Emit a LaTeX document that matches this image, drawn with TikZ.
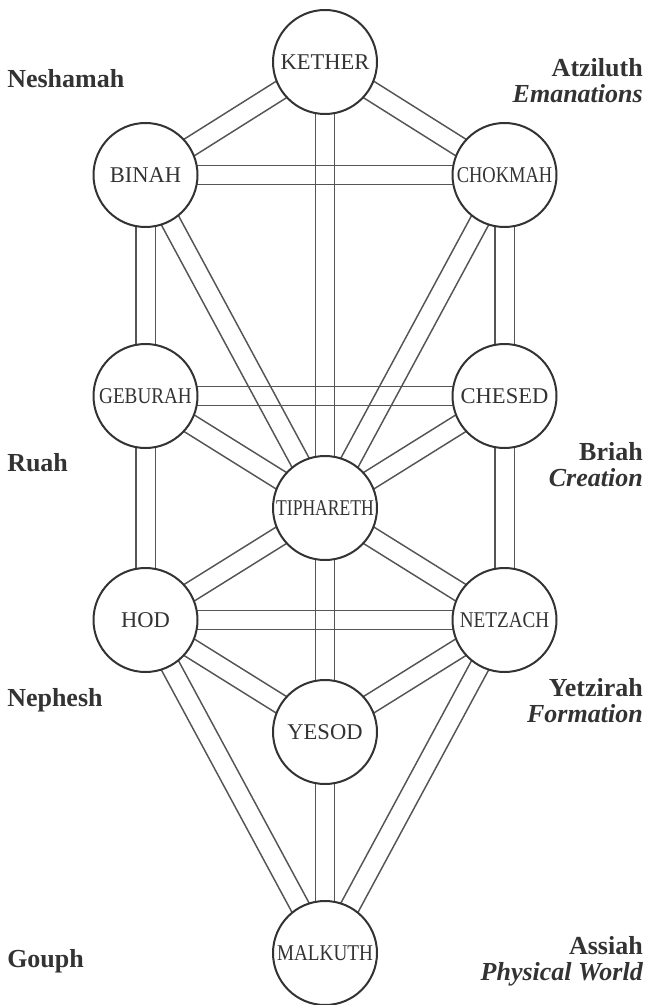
\documentclass[tikz,border=0pt]{standalone}
\usepackage{fontspec}
\setmainfont{Liberation Serif}
\usetikzlibrary{calc,backgrounds}
\definecolor{ink}{HTML}{333333}
\definecolor{pathgray}{HTML}{555555}
% half of the distance between the two rails of a path
\newcommand\halfgap{7.3pt}
% a path between two sephiroth: two parallel rails, centre to centre
\newcommand\channel[2]{%
  \draw[pathline] ($(#1)!\halfgap!90:(#2)$) -- ($(#2)!\halfgap!-90:(#1)$);
  \draw[pathline] ($(#1)!\halfgap!-90:(#2)$) -- ($(#2)!\halfgap!90:(#1)$);}
% horizontally condensed name inside a circle
\newcommand\sephname[2]{\scalebox{#1}[1]{#2}}

\begin{document}
\begin{tikzpicture}[x=0.75pt,y=-0.75pt,
  sephira/.style={circle,draw=ink,line width=1.5pt,fill=white,
    minimum size=78pt,inner sep=0pt,text=ink,
    font=\fontsize{16.9}{20}\selectfont},
  pathline/.style={draw=pathgray,line width=1.1pt},
  world/.style={anchor=base east,inner sep=0pt,text=ink,
    font=\fontsize{19.5}{23}\selectfont\bfseries},
  soul/.style={anchor=base west,inner sep=0pt,text=ink,
    font=\fontsize{19.5}{23}\selectfont\bfseries}]
\useasboundingbox (0,0) rectangle (648,1005);

% the ten sephiroth
\node[sephira] (kether)    at (325,62)    {KETHER};
\node[sephira] (binah)     at (145.5,175) {BINAH};
\node[sephira] (chokmah)   at (504.5,175) {\sephname{0.82}{CHOKMAH}};
\node[sephira] (geburah)   at (145.5,396) {\sephname{0.85}{GEBURAH}};
\node[sephira] (chesed)    at (504.5,396) {CHESED};
\node[sephira] (tiphareth) at (325,508)   {\sephname{0.78}{TIPHARETH}};
\node[sephira] (hod)       at (145.5,620) {HOD};
\node[sephira] (netzach)   at (504.5,620) {\sephname{0.85}{NETZACH}};
\node[sephira] (yesod)     at (325,732)   {YESOD};
\node[sephira] (malkuth)   at (325,953)   {\sephname{0.85}{MALKUTH}};

% the twenty-two paths
\begin{scope}[on background layer]
\channel{kether}{binah}
\channel{kether}{chokmah}
\channel{kether}{tiphareth}
\channel{binah}{chokmah}
\channel{binah}{geburah}
\channel{binah}{tiphareth}
\channel{chokmah}{chesed}
\channel{chokmah}{tiphareth}
\channel{geburah}{chesed}
\channel{geburah}{tiphareth}
\channel{chesed}{tiphareth}
\channel{geburah}{hod}
\channel{chesed}{netzach}
\channel{tiphareth}{hod}
\channel{tiphareth}{netzach}
\channel{tiphareth}{yesod}
\channel{hod}{netzach}
\channel{hod}{yesod}
\channel{netzach}{yesod}
\channel{hod}{malkuth}
\channel{netzach}{malkuth}
\channel{yesod}{malkuth}
\end{scope}

% parts of the soul
\node[soul] (neshamah) at (7,88)  {Neshamah};
\node[soul] (ruah)     at (7,471) {Ruah};
\node[soul] (nephesh)  at (7,706) {Nephesh};
\node[soul] (gouph)    at (7,967) {Gouph};

% the four worlds
\node[world] (atziluth)  at (643,77)  {Atziluth};
\node[world] (atzsub)    at (643,103) {\itshape Emanations};
\node[world] (briah)     at (643,460) {Briah};
\node[world] (briahsub)  at (643,486) {\itshape Creation};
\node[world] (yetzirah)  at (643,696) {Yetzirah};
\node[world] (yetzsub)   at (643,722) {\itshape Formation};
\node[world] (assiah)    at (643,954) {Assiah};
\node[world] (assiahsub) at (643,980) {\itshape Physical World};
\end{tikzpicture}
\end{document}
